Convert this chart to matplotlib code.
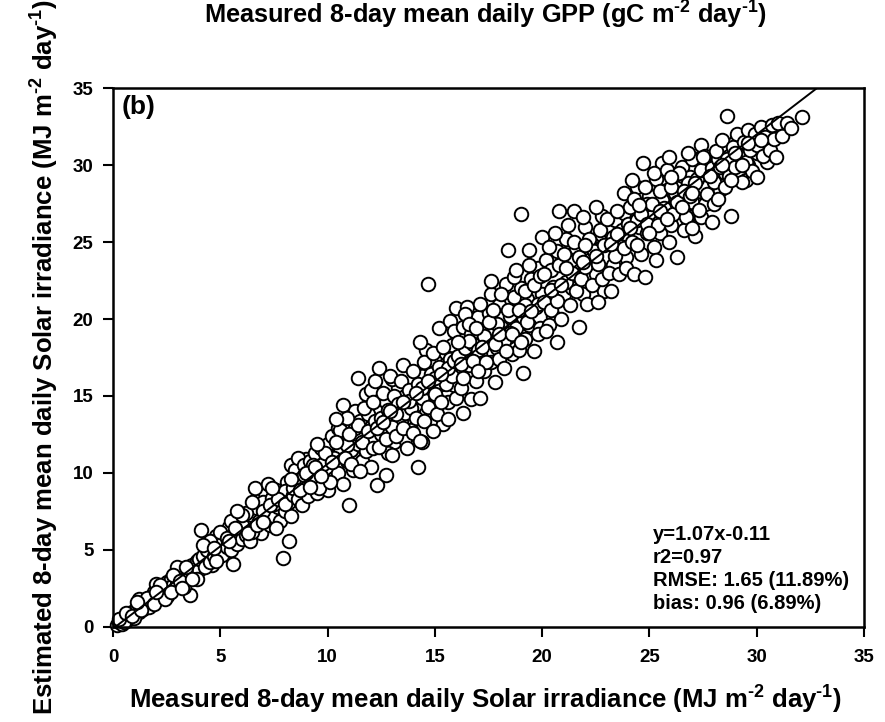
import matplotlib
matplotlib.use("Agg")
import matplotlib.pyplot as plt

plt.rcParams['font.family'] = ['Liberation Sans', 'DejaVu Sans']
plt.rcParams['font.weight'] = 'bold'
plt.rcParams['mathtext.fontset'] = 'custom'
plt.rcParams['mathtext.rm'] = 'Liberation Sans:bold'
plt.rcParams['mathtext.bf'] = 'Liberation Sans:bold'
plt.rcParams['mathtext.default'] = 'bf'

# measured vs estimated solar irradiance in x-bins
pts_0_4 = [(0.2, 0.1), (0.3, 0.3), (0.4, 0.2), (0.5, 0.5), (0.6, 0.4), (0.7, 0.8), (0.8, 0.6), (0.9, 1.0),
           (1.0, 0.9), (1.1, 1.3), (1.2, 1.0), (1.3, 1.5), (1.4, 1.2), (1.5, 1.7), (1.6, 1.4), (1.7, 1.9),
           (1.8, 1.6), (1.9, 2.3), (2.0, 1.8), (2.1, 2.6), (2.2, 2.0), (2.3, 2.5), (2.4, 2.2), (2.5, 2.9),
           (2.6, 2.4), (2.7, 3.1), (2.8, 2.7), (2.9, 3.3), (3.0, 2.8), (3.1, 3.5), (3.2, 3.0), (3.3, 3.6),
           (3.4, 3.2), (3.5, 3.9), (3.6, 2.1), (3.6, 3.4), (3.7, 4.0), (3.8, 3.5), (3.9, 4.3), (4.0, 3.7),
           (1.2, 1.8), (2.0, 2.8), (2.5, 2.0), (3.0, 3.9), (3.3, 2.6), (1.0, 0.6), (0.5, 0.3), (1.7, 1.3),
           (2.8, 3.4), (3.9, 3.1)]
pts_4_8 = [(4.1, 6.3), (4.2, 4.6), (4.3, 3.9), (4.4, 5.0), (4.5, 4.2), (4.6, 5.4), (4.7, 4.6), (4.8, 5.9),
           (4.9, 4.8), (5.0, 5.5), (5.1, 4.7), (5.2, 6.1), (5.3, 5.2), (5.4, 6.5), (5.5, 5.0), (5.6, 4.1),
           (5.6, 5.9), (5.7, 6.8), (5.8, 5.4), (5.9, 6.3), (6.0, 5.7), (6.1, 7.0), (6.2, 6.0), (6.3, 6.6),
           (6.4, 5.6), (6.5, 7.3), (6.6, 9.0), (6.6, 6.4), (6.7, 7.7), (6.8, 6.9), (6.9, 6.1), (7.0, 8.1),
           (7.1, 7.0), (7.2, 9.3), (7.2, 7.6), (7.3, 6.6), (7.4, 8.4), (7.5, 7.2), (7.6, 8.9), (7.7, 7.8),
           (7.8, 6.9), (7.9, 4.5), (7.9, 8.5), (8.0, 7.5), (8.1, 9.4), (8.2, 5.6), (8.2, 8.1), (8.3, 7.2),
           (4.5, 5.6), (5.0, 6.2), (5.5, 6.9), (6.0, 6.6), (6.5, 6.2), (7.0, 7.5), (7.5, 8.0), (8.0, 8.8),
           (6.2, 7.4), (5.3, 5.8), (4.8, 4.3), (7.6, 6.4)]
pts_8_12 = [(8.4, 9.0), (8.5, 10.2), (8.6, 11.0), (8.6, 8.3), (8.7, 9.6), (8.8, 7.9), (8.9, 10.5), (9.0, 9.2),
            (9.1, 8.5), (9.2, 10.8), (9.3, 9.6), (9.4, 11.3), (9.5, 8.7), (9.6, 10.1), (9.7, 11.6), (9.8, 9.4),
            (9.9, 10.7), (10.0, 8.9), (10.0, 11.9), (10.1, 10.3), (10.2, 12.4), (10.3, 9.7), (10.4, 11.1),
            (10.5, 12.9), (10.5, 10.0), (10.6, 11.6), (10.7, 14.4), (10.7, 9.3), (10.8, 12.2), (10.9, 10.8),
            (11.0, 7.9), (11.0, 13.1), (11.1, 11.5), (11.2, 12.6), (11.2, 10.2), (11.3, 14.0), (11.4, 16.2),
            (11.4, 11.9), (11.5, 13.4), (11.6, 10.8), (11.7, 12.7), (11.8, 15.1), (11.8, 11.4), (11.9, 13.8),
            (12.0, 12.3), (12.0, 10.4), (8.9, 9.9), (9.3, 10.5), (9.8, 10.6), (10.3, 11.0), (10.9, 11.8),
            (11.5, 12.4), (12.0, 13.0), (9.6, 9.0), (10.1, 9.4), (10.6, 12.8), (11.3, 12.9)]
pts_12_16 = [(12.1, 14.6), (12.2, 16.0), (12.3, 9.2), (12.3, 12.9), (12.4, 16.8), (12.4, 11.7), (12.5, 13.6),
             (12.6, 15.2), (12.7, 9.9), (12.7, 12.2), (12.8, 14.1), (12.9, 16.3), (13.0, 13.0), (13.0, 11.2),
             (13.1, 15.0), (13.2, 12.4), (13.3, 14.5), (13.4, 16.0), (13.5, 17.0), (13.5, 12.9), (13.6, 13.9),
             (13.7, 11.6), (13.8, 15.4), (13.9, 14.2), (14.0, 16.6), (14.0, 12.6), (14.1, 13.6), (14.2, 10.4),
             (14.2, 15.8), (14.3, 18.5), (14.3, 12.1), (14.4, 14.9), (14.5, 17.2), (14.5, 13.4), (14.6, 15.6),
             (14.7, 22.3), (14.7, 14.3), (14.8, 16.4), (14.9, 12.7), (14.9, 17.8), (15.0, 15.1), (15.1, 13.8),
             (15.2, 16.9), (15.3, 14.6), (15.4, 18.2), (15.5, 15.8), (15.6, 13.5), (15.7, 17.4), (15.8, 16.3),
             (15.9, 19.2), (16.0, 14.9), (16.0, 20.7), (12.6, 13.3), (13.2, 13.8), (13.8, 14.7), (14.4, 15.5),
             (15.0, 16.2), (15.6, 16.8), (12.9, 14.0), (13.5, 14.6), (14.1, 15.2), (14.7, 16.0), (15.3, 16.4),
             (15.9, 17.3)]
pts_16_20 = [(16.1, 17.6), (16.2, 15.5), (16.3, 19.5), (16.3, 13.9), (16.4, 18.1), (16.5, 20.8), (16.5, 16.4),
             (16.6, 17.0), (16.7, 19.0), (16.7, 14.8), (16.8, 18.4), (16.9, 16.0), (17.0, 20.1), (17.1, 14.9),
             (17.1, 17.7), (17.2, 19.3), (17.3, 16.6), (17.4, 18.6), (17.5, 20.4), (17.6, 21.6), (17.6, 17.2),
             (17.7, 19.0), (17.8, 15.9), (17.9, 18.1), (18.0, 20.9), (18.0, 17.4), (18.1, 19.5), (18.2, 16.8),
             (18.3, 22.3), (18.4, 24.5), (18.4, 18.8), (18.5, 20.2), (18.6, 17.7), (18.7, 21.4), (18.8, 19.4),
             (18.9, 18.0), (19.0, 26.8), (19.0, 22.0), (19.1, 16.5), (19.1, 20.1), (19.2, 18.7), (19.3, 21.3),
             (19.4, 24.5), (19.4, 19.6), (19.5, 22.6), (19.6, 17.9), (19.7, 20.8), (19.8, 23.3), (19.9, 19.4),
             (20.0, 21.6), (16.6, 18.6), (17.3, 18.9), (17.9, 19.7), (18.5, 19.1), (19.2, 20.9), (19.8, 21.0),
             (16.2, 17.1), (17.0, 18.0), (18.2, 18.6)]
pts_20_24 = [(20.1, 22.9), (20.2, 19.2), (20.3, 24.7), (20.4, 20.6), (20.5, 22.1), (20.6, 25.6), (20.7, 18.5),
             (20.7, 21.2), (20.8, 27.0), (20.8, 23.5), (20.9, 20.0), (21.0, 24.2), (21.1, 22.4), (21.2, 26.1),
             (21.3, 20.9), (21.4, 23.0), (21.5, 25.0), (21.6, 21.8), (21.7, 19.5), (21.7, 24.0), (21.8, 22.6),
             (21.9, 26.6), (22.0, 23.4), (22.1, 21.0), (22.2, 25.2), (22.3, 22.2), (22.4, 24.4), (22.5, 27.3),
             (22.6, 21.1), (22.6, 23.6), (22.7, 25.8), (22.8, 22.6), (22.9, 24.8), (23.0, 26.5), (23.1, 23.0),
             (23.2, 21.8), (23.3, 25.3), (23.4, 24.1), (23.5, 27.0), (23.6, 22.9), (23.7, 25.8), (23.8, 28.2),
             (23.8, 24.6), (23.9, 23.3), (24.0, 26.2), (20.4, 21.9), (21.1, 23.3), (21.9, 23.7), (22.5, 24.1),
             (23.2, 24.9), (23.9, 25.5), (20.9, 22.2), (22.0, 24.8), (23.5, 25.5)]
pts_24_28 = [(24.1, 27.3), (24.2, 25.0), (24.3, 22.9), (24.4, 28.6), (24.5, 26.0), (24.6, 24.2), (24.7, 30.1),
             (24.7, 27.1), (24.8, 22.7), (24.9, 25.6), (25.0, 28.0), (25.1, 26.6), (25.2, 24.7), (25.3, 29.1),
             (25.4, 27.4), (25.5, 25.6), (25.6, 30.1), (25.7, 26.7), (25.8, 28.4), (25.9, 25.0), (26.0, 27.8),
             (26.1, 29.4), (26.2, 26.3), (26.3, 24.0), (26.3, 28.5), (26.4, 27.1), (26.5, 29.9), (26.6, 25.8),
             (26.7, 28.0), (26.8, 26.7), (26.9, 29.2), (27.0, 27.6), (27.1, 25.4), (27.2, 30.4), (27.3, 28.3),
             (27.4, 31.3), (27.4, 26.6), (27.5, 29.0), (27.6, 27.5), (27.7, 30.0), (27.8, 28.4), (27.9, 26.3),
             (28.0, 29.5), (24.4, 26.4), (25.0, 26.9), (25.6, 27.7), (26.2, 28.2), (26.8, 28.8), (27.5, 28.6),
             (24.9, 27.5), (26.0, 26.1), (27.2, 29.1)]
pts_28_33 = [(28.1, 30.9), (28.2, 27.8), (28.3, 29.9), (28.4, 31.6), (28.5, 28.6), (28.6, 33.2), (28.6, 30.4),
             (28.7, 29.3), (28.8, 26.7), (28.9, 31.2), (29.0, 29.9), (29.1, 32.0), (29.2, 30.6), (29.3, 28.9),
             (29.4, 31.5), (29.5, 30.2), (29.6, 32.3), (29.7, 31.0), (29.8, 29.6), (29.9, 32.0), (30.0, 29.2),
             (30.0, 31.3), (30.2, 32.5), (30.3, 30.6), (30.4, 31.8), (30.6, 31.0), (30.7, 32.6), (30.8, 31.7),
             (30.9, 30.5), (31.0, 32.7), (31.2, 31.9), (31.4, 32.7), (31.6, 32.4), (32.1, 33.1), (28.4, 30.0),
             (29.0, 30.8), (29.6, 31.4), (30.2, 31.6), (28.8, 29.0), (29.3, 30.0)]

# the cloud is much denser than the edge points above, these fill the inside of the band
fill_0_8 = [(0.3, 0.5), (0.6, 0.9), (0.9, 0.7), (1.3, 1.1), (1.6, 1.9), (1.9, 1.5), (2.2, 2.7), (2.4, 1.8),
            (2.7, 2.3), (3.1, 3.0), (3.4, 3.9), (3.7, 3.1), (4.0, 4.4), (4.3, 4.9), (4.6, 4.0), (4.9, 5.6),
            (5.2, 5.0), (5.5, 6.2), (5.8, 6.0), (6.1, 6.3), (6.3, 7.2), (6.6, 7.0), (6.9, 7.3), (7.2, 6.9),
            (7.5, 8.6), (7.8, 7.4), (8.1, 8.4), (6.8, 8.4), (5.9, 7.1), (5.1, 5.9), (4.4, 4.5), (3.2, 2.5),
            (2.0, 2.3), (1.1, 1.6), (7.1, 8.7), (6.4, 6.9)]
fill_4_12 = [(4.2, 5.3), (4.7, 5.1), (5.4, 5.6), (5.7, 6.4), (6.0, 7.3), (6.3, 6.1), (6.7, 6.6), (7.0, 6.8),
             (7.3, 7.9), (7.7, 8.3), (8.0, 8.0), (8.4, 8.6), (8.8, 9.3), (9.1, 9.8), (9.4, 9.9), (9.8, 10.2),
             (10.1, 11.0), (10.5, 11.4), (10.8, 11.5), (11.2, 11.1), (11.6, 13.0), (9.0, 10.9), (9.7, 11.0),
             (10.3, 12.3), (8.3, 10.5), (7.4, 9.0), (6.5, 8.1), (5.8, 7.5), (10.0, 10.0), (11.9, 12.0)]
fill_8_16 = [(8.3, 9.6), (8.7, 8.9), (9.0, 10.0), (9.2, 9.1), (9.4, 10.4), (9.7, 9.8), (9.9, 11.3), (10.2, 10.7),
             (10.4, 12.0), (10.8, 11.0), (11.0, 12.5), (11.1, 10.6), (11.4, 13.1), (11.6, 12.0), (11.9, 12.7),
             (12.1, 11.6), (12.2, 13.4), (12.5, 12.5), (12.7, 14.6), (12.9, 13.2), (13.1, 12.0), (13.3, 15.5),
             (13.4, 13.3), (13.6, 15.0), (13.7, 14.3), (13.9, 12.8), (14.0, 15.3), (14.2, 14.5), (14.4, 16.3),
             (14.6, 13.9), (14.8, 15.2), (15.0, 17.3), (15.1, 14.8), (15.3, 15.8), (15.5, 17.1), (15.6, 14.6),
             (15.8, 18.3), (15.9, 15.7), (11.7, 14.2), (10.9, 13.6), (12.0, 15.4), (13.0, 16.1), (14.6, 18.0),
             (15.2, 19.4), (15.7, 19.9), (10.4, 13.5), (9.5, 11.9), (12.8, 11.3), (13.6, 12.2), (15.4, 13.2),
             (14.4, 12.0), (11.5, 10.1)]
fill_16_24 = [(16.1, 18.5), (16.3, 16.2), (16.4, 20.3), (16.6, 19.7), (16.8, 17.3), (16.9, 19.4), (17.1, 21.0),
              (17.2, 18.2), (17.4, 17.2), (17.5, 19.8), (17.7, 20.6), (17.8, 18.4), (18.0, 19.0), (18.1, 21.6),
              (18.3, 17.9), (18.4, 20.6), (18.6, 19.0), (18.7, 22.7), (18.9, 20.6), (19.0, 18.5), (19.2, 21.8),
              (19.3, 19.8), (19.5, 20.5), (19.6, 22.2), (19.8, 19.0), (19.9, 22.8), (20.1, 21.1), (20.2, 23.8),
              (20.4, 23.2), (20.5, 20.2), (20.7, 24.4), (20.8, 22.0), (21.0, 21.6), (21.1, 25.2), (21.3, 23.7),
              (21.4, 22.0), (21.6, 24.6), (21.7, 23.1), (21.9, 21.6), (22.0, 26.0), (22.2, 23.8), (22.3, 24.9),
              (22.5, 22.9), (22.7, 24.6), (22.8, 26.7), (23.0, 24.0), (23.1, 25.7), (23.3, 23.5), (23.4, 26.4),
              (23.6, 24.9), (23.8, 26.9), (23.9, 24.0), (19.4, 23.5), (18.8, 23.2), (17.6, 22.5), (20.0, 25.3),
              (21.5, 27.0), (22.9, 21.8), (20.3, 19.6), (17.0, 16.6)]
fill_24_32 = [(24.1, 25.9), (24.3, 27.8), (24.4, 24.8), (24.6, 26.8), (24.8, 28.6), (24.9, 26.2), (25.1, 27.5),
              (25.2, 29.5), (25.4, 26.1), (25.5, 28.3), (25.7, 27.2), (25.8, 29.7), (26.0, 28.6), (26.1, 26.8),
              (26.3, 27.6), (26.4, 29.5), (26.6, 28.3), (26.7, 26.6), (26.9, 28.0), (27.0, 30.4), (27.1, 28.8),
              (27.3, 27.1), (27.4, 29.7), (27.6, 30.6), (27.7, 28.1), (27.9, 29.8), (28.0, 27.5), (28.2, 30.4),
              (28.3, 28.4), (28.5, 31.1), (28.7, 30.6), (28.9, 29.7), (29.1, 31.0), (29.2, 29.3), (29.4, 30.6),
              (29.6, 30.0), (29.8, 31.7), (30.0, 30.8), (30.3, 32.0), (30.5, 30.2), (30.9, 32.1), (31.3, 32.4),
              (25.9, 30.5), (26.8, 30.8), (24.2, 29.0), (25.3, 23.8), (27.0, 25.9), (30.6, 31.5),
              (24.5, 27.4), (25.0, 25.6), (25.5, 27.0), (26.0, 29.2), (26.5, 27.3), (27.0, 28.2), (27.5, 30.5),
              (28.0, 28.9), (28.5, 29.5), (29.0, 31.5), (29.5, 29.0), (30.0, 32.0), (30.4, 30.8), (25.8, 26.5),
              (27.8, 29.3)]

# regression line y = slope * x + intercept
slope = 1.07
intercept = -0.11
line_x = [0.1, 33.5]

ticks = [0, 5, 10, 15, 20, 25, 30, 35]
stats_text = "y=1.07x-0.11\nr2=0.97\nRMSE: 1.65 (11.89%)\nbias: 0.96 (6.89%)"

all_pts = (pts_0_4 + fill_0_8 + pts_4_8 + fill_4_12 + pts_8_12 + fill_8_16 + pts_12_16 + pts_16_20
           + fill_16_24 + pts_20_24 + pts_24_28 + fill_24_32 + pts_28_33)
measured = [p[0] for p in all_pts]
estimated = [p[1] for p in all_pts]

fig = plt.figure(figsize=(8.85, 7.22), dpi=100)
ax = fig.add_axes([0.1277, 0.1316, 0.8486, 0.7465])

ax.scatter(measured, estimated, s=95, facecolor='white', edgecolor='black', linewidths=1.4, zorder=2,
           clip_on=False)
ax.plot(line_x, [slope * v + intercept for v in line_x], color='black', lw=1.4, zorder=3)

ax.set_xlim(0, 35)
ax.set_ylim(0, 35)
ax.set_xticks(ticks)
ax.set_yticks(ticks)
ax.tick_params(direction='out', length=7, width=1.5, labelsize=13.5, top=False, right=False)
ax.tick_params(axis='x', pad=9)
ax.tick_params(axis='y', pad=7)
for s in ax.spines.values():
    s.set_linewidth(1.8)

ax.text(0.011, 0.987, "(b)", transform=ax.transAxes, fontsize=19, fontweight='bold', va='top', ha='left')
ax.text(0.719, 0.19, stats_text, transform=ax.transAxes, fontsize=14.5, fontweight='bold',
        va='top', ha='left', linespacing=1.27)

fig.text(0.549, 0.979, r"Measured 8-day mean daily GPP (gC m$^{\text{-2}}$ day$^{\text{-1}}$)",
         ha='center', va='center', fontsize=18.3, fontweight='bold')
fig.text(0.549, 0.031, r"Measured 8-day mean daily Solar irradiance (MJ m$^{\text{-2}}$ day$^{\text{-1}}$)",
         ha='center', va='center', fontsize=18.5, fontweight='bold')
fig.text(0.051, 0.506, r"Estimated 8-day mean daily Solar irradiance (MJ m$^{\text{-2}}$ day$^{\text{-1}}$)",
         ha='center', va='center', rotation=90, fontsize=18.5, fontweight='bold')

fig.savefig("out.png", dpi=100)
